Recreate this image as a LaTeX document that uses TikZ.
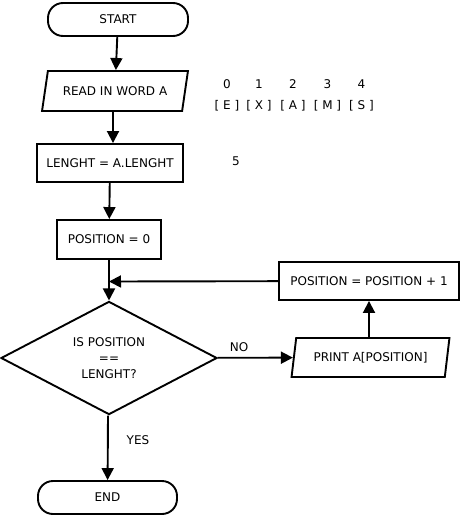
\documentclass[tikz,border=0pt]{standalone}
\usepackage{fontspec}
\setmainfont{DejaVu Sans}
\usetikzlibrary{shapes.geometric,arrows.meta}

\begin{document}
\begin{tikzpicture}[x=1pt, y=-1pt, line width=1.9pt,
  every node/.style = {font=\fontsize{12}{16}\selectfont, inner sep=0pt},
  term/.style = {draw, rectangle, rounded corners=15pt, minimum width=140pt, minimum height=33pt},
  box/.style = {draw, rectangle, minimum width=#1, minimum height=38pt},
  io/.style = {draw, trapezium, trapezium stretches=true, trapezium left angle=#1, trapezium right angle=180-#1},
  test/.style = {draw, diamond, minimum width=216pt, minimum height=110pt, align=center},
  flow/.style = {-{Triangle[length=12pt, width=12pt]}}]

\useasboundingbox (0,0) rectangle (461,517);

% Steps
\node[term] (start) at (118,19.5) {START};
\node[io=63.4, minimum width=146pt, minimum height=40pt] (read) at (115,91) {READ IN WORD A};
\node[box=146pt] (len) at (110,163) {LENGHT = A.LENGHT};
\node[box=104pt, minimum height=39pt] (pos0) at (109,239.5) {POSITION = 0};
\node[test] (check) at (109,358) {IS POSITION\\==\\LENGHT?};
\node[io=71.6, minimum width=158pt, minimum height=39pt] (print) at (370.5,357.5) {PRINT A[POSITION]};
\node[box=180pt] (inc) at (369,281) {POSITION = POSITION + 1};
\node[term, minimum width=139pt] (stop) at (107.5,497.5) {END};
\coordinate (merge) at (109,281.5);

% Word A
\foreach \i/\letter/\x in {0/E/227,1/X/259,2/A/293,3/M/327.5,4/S/361.5} {
  \node (idx\i) at (\x,84) {\i};
  \node (cell\i) at (\x,106) {[ \letter\ ]};
}
\node (lenval) at (236,161.5) {5};

% Labels
\node (no) at (239,347) {NO};
\node (yes) at (138,440) {YES};

% Lines
\draw[flow] (start) -- (read);
\draw[flow] ([xshift=-2pt]read.south) -- ([xshift=3pt]len.north);
\draw[flow] (len) -- (pos0);
\draw[flow] (pos0) -- (check);
\draw[flow] (inc) -- (merge);
\draw[flow] (check) -- (print);
\draw[flow] (print.north -| inc) -- (inc);
\draw[flow] ([xshift=-1pt]check.south) -- (stop);

\end{tikzpicture}
\end{document}
